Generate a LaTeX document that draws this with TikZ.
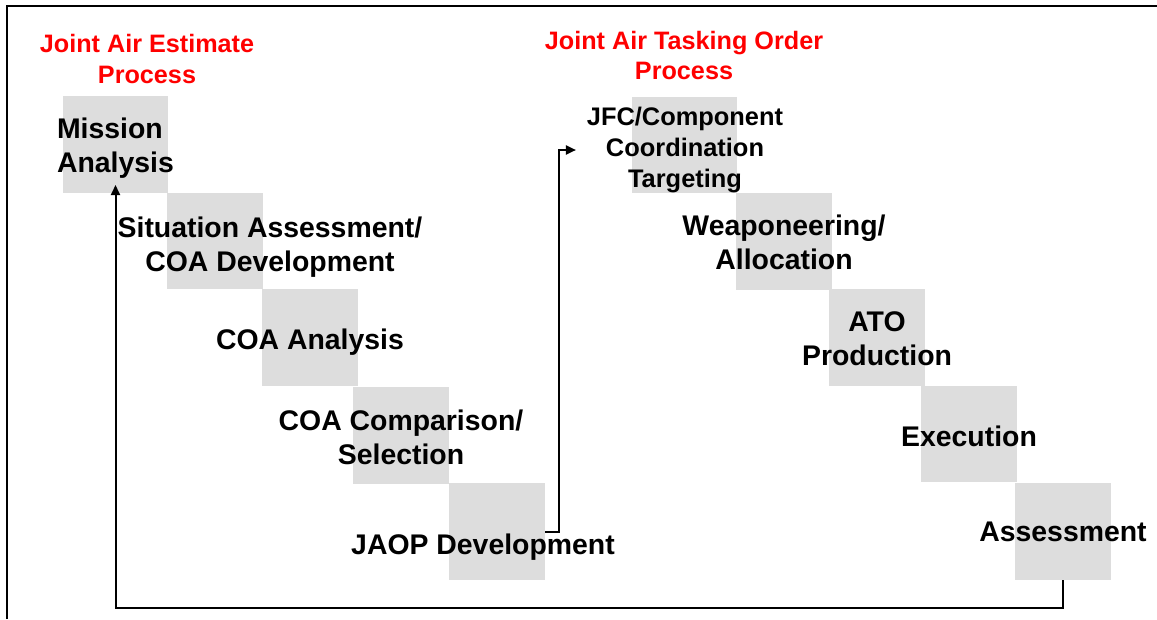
\documentclass[tikz,border=0pt]{standalone}
\usepackage{fontspec}
\setmainfont{Liberation Sans}
\usetikzlibrary{arrows.meta}
\definecolor{sqgray}{RGB}{221,221,221}
\definecolor{titlered}{RGB}{255,0,0}
\tikzset{
  sqbox/.style={fill=sqgray, draw=none, inner sep=0pt, outer sep=0pt},
  lbl/.style={inner sep=0pt, outer sep=0pt, align=center, text=black,
    font=\fontsize{28.4}{34}\selectfont\bfseries},
  lblsmall/.style={lbl, font=\fontsize{25.4}{31}\selectfont\bfseries},
  ttl/.style={inner sep=0pt, align=center, text=titlered,
    font=\fontsize{25.2}{31}\selectfont\bfseries},
  conn/.style={line width=2pt, -{Triangle[length=10pt,width=9pt]}},
  frame/.style={line width=2pt}
}
\begin{document}
\begin{tikzpicture}[x=1pt,y=-1pt]
\useasboundingbox (0,0) rectangle (1157,619);
% frame (top and left edges)
\draw[frame] (7,619) -- (7,6) -- (1157,6);
% grey squares
\node[sqbox, minimum width=105, minimum height=97] (s1) at (115.5,144.5) {};
\node[sqbox, minimum width=96, minimum height=96] (s2) at (215,241) {};
\node[sqbox, minimum width=96, minimum height=97] (s3) at (310,337.5) {};
\node[sqbox, minimum width=96, minimum height=97] (s4) at (401,435) {};
\node[sqbox, minimum width=96, minimum height=97] (s5) at (497,531.5) {};
\node[sqbox, minimum width=105, minimum height=96] (s6) at (684.5,145) {};
\node[sqbox, minimum width=96, minimum height=97] (s7) at (784,241.5) {};
\node[sqbox, minimum width=96, minimum height=97] (s8) at (877,337.5) {};
\node[sqbox, minimum width=96, minimum height=96] (s9) at (969,434) {};
\node[sqbox, minimum width=96, minimum height=97] (s10) at (1063,531.5) {};
% titles
\node[ttl] (t1) at (147,58.5) {Joint Air Estimate\\Process};
\node[ttl, font=\fontsize{25.2}{30}\selectfont\bfseries] (t2) at (684,55.5) {Joint Air Tasking Order\\Process};
% labels
\node[lbl, align=left, anchor=west] (mission) at (57,148) {Mission\\Analysis};
\node[lbl] (sit) at (270,247) {Situation Assessment/\\COA Development};
\node[lbl] (coaa) at (310,342) {COA Analysis};
\node[lbl] (coac) at (401,437) {COA Comparison/\\Selection};
\node[lbl] (jaop) at (483,547) {JAOP Development};
\node[lblsmall] (jfc) at (685,150) {JFC/Component\\Coordination\\Targeting};
\node[lbl] (weap) at (784,242) {Weaponeering/\\Allocation};
\node[lbl] (ato) at (877,339) {ATO\\Production};
\node[lbl] (exec) at (969,436) {Execution};
\node[lbl] (assess) at (1063,532) {Assessment};
% connectors
\draw[conn] (s5.east) -- ++(14,0) |- ([xshift=-11pt]jfc.west);
\draw[conn] (s10.south) -- ++(0,28) -| ([yshift=8pt]s1.south);
\end{tikzpicture}
\end{document}
